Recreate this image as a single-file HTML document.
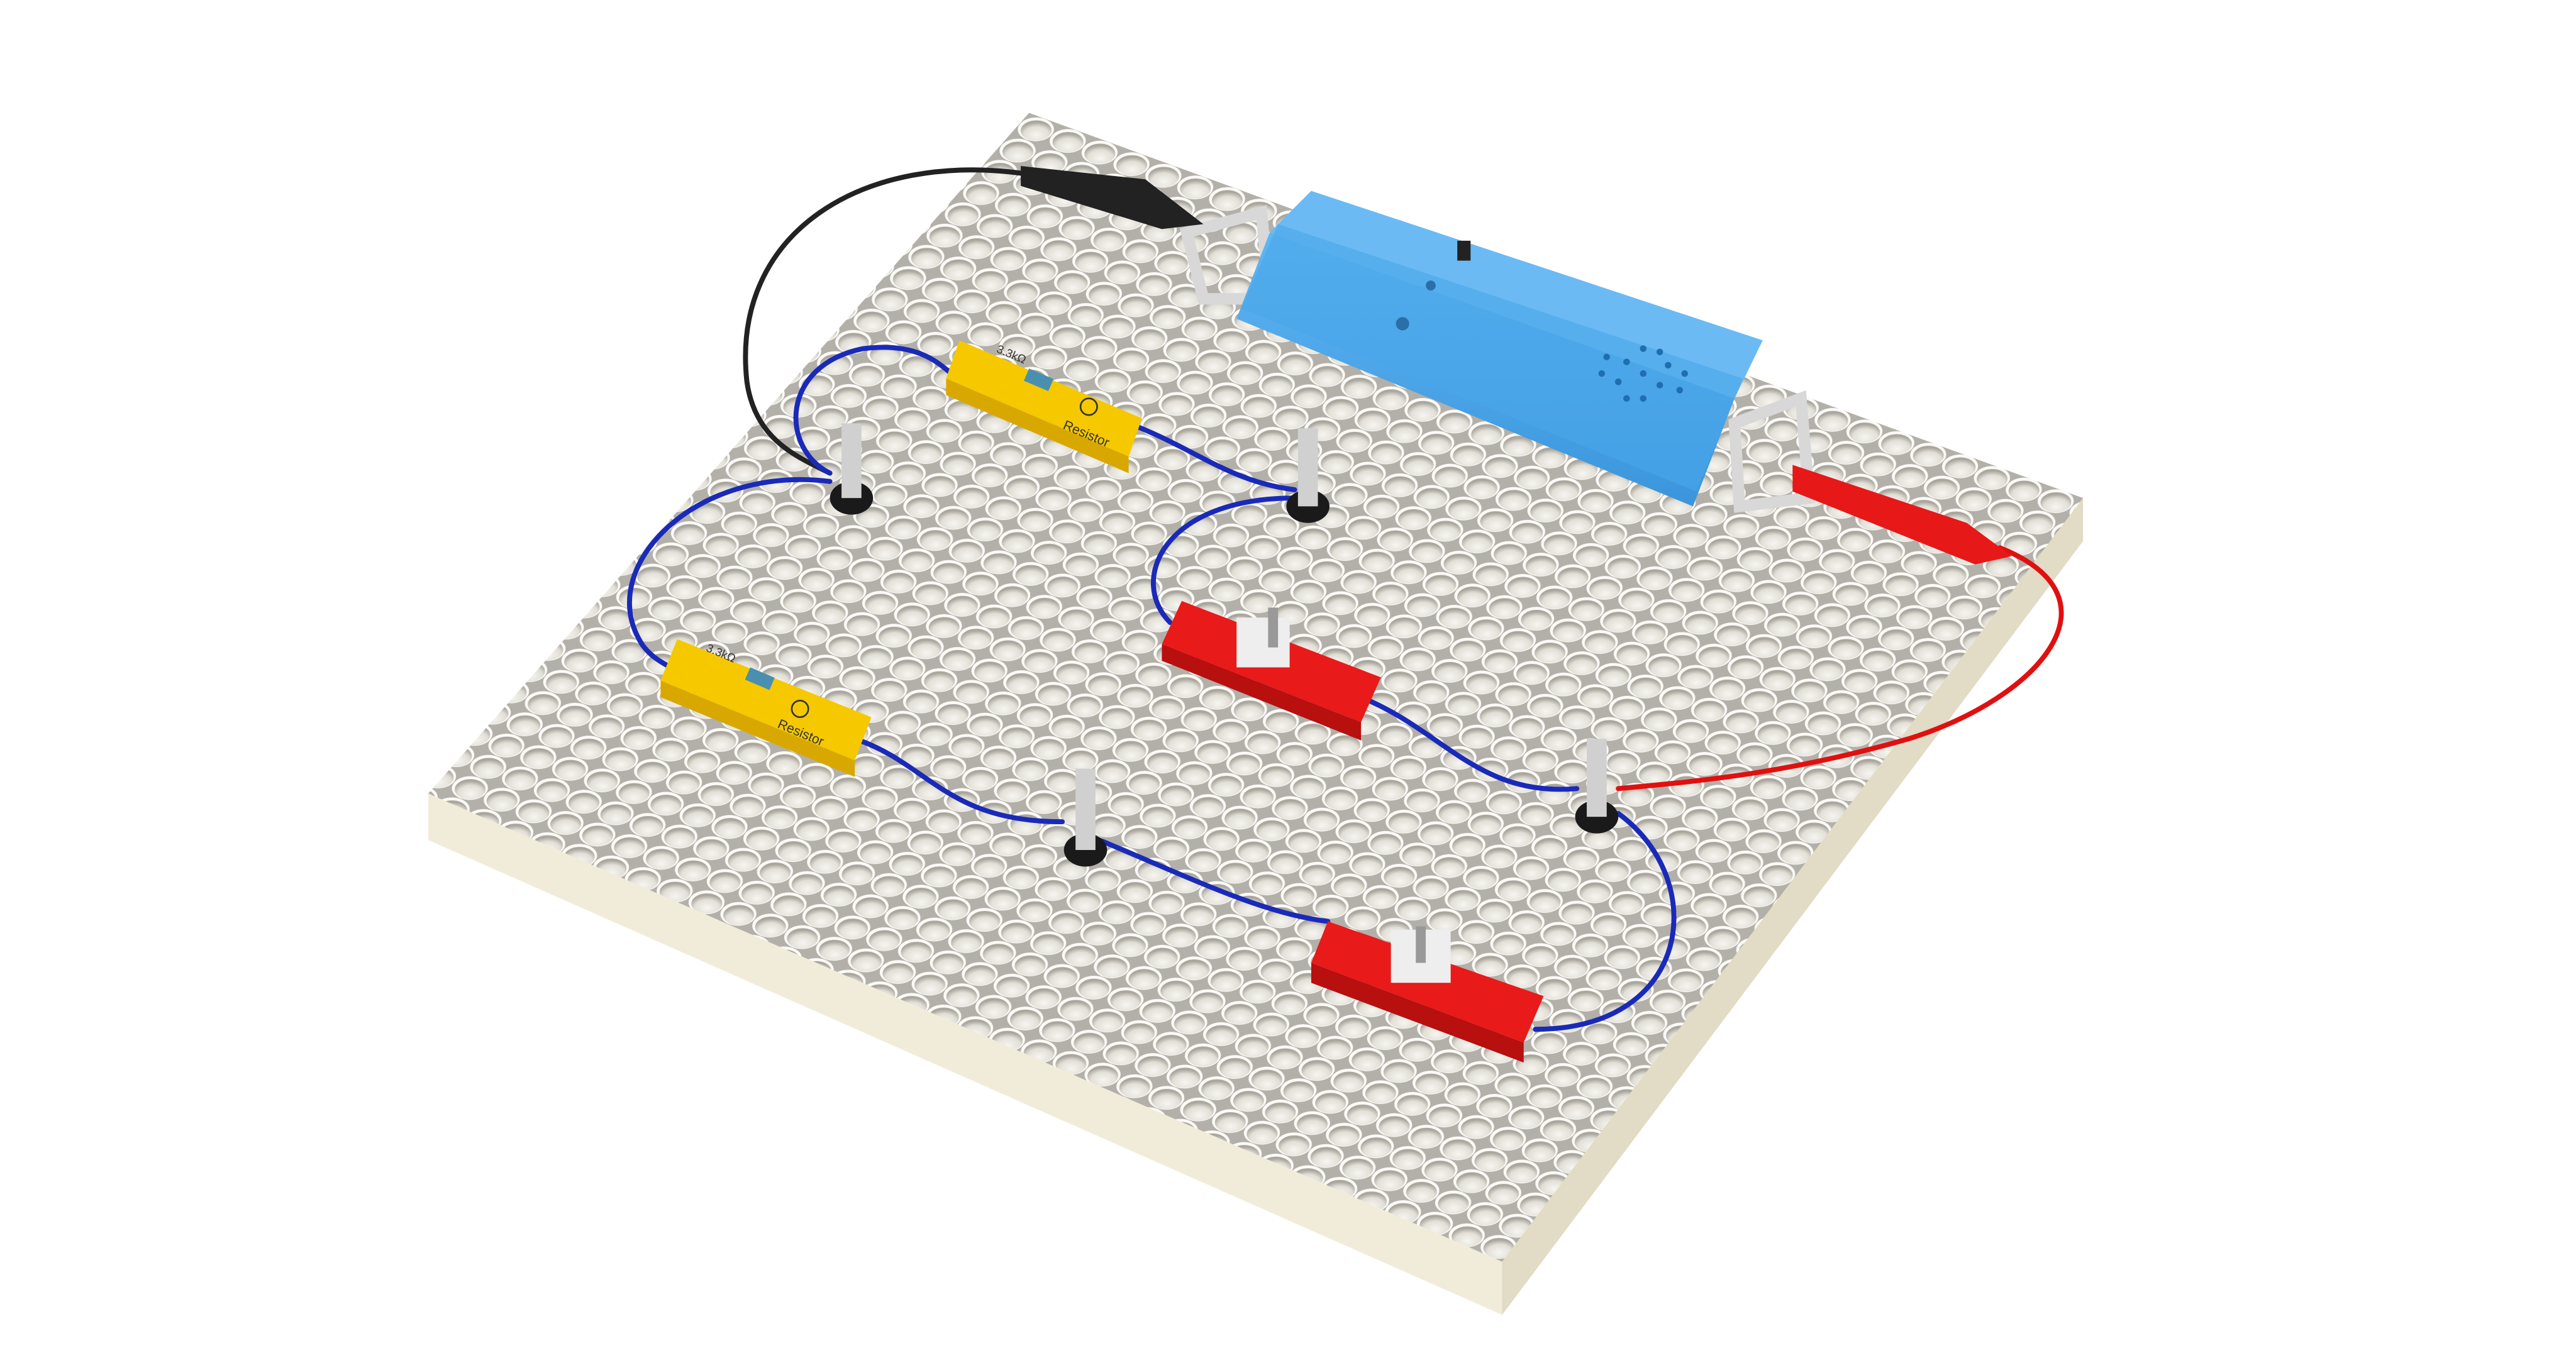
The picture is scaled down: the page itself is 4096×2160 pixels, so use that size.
<!DOCTYPE html>
<html><head><meta charset="utf-8"><style>
html,body{margin:0;padding:0;background:#fff;}
svg{display:block;width:4096px;height:2160px;}
text{font-family:"Liberation Sans",sans-serif;}
</style></head><body>
<svg viewBox="0 0 1552 818" preserveAspectRatio="none" xmlns="http://www.w3.org/2000/svg">
<defs>
<radialGradient id="hole" cx="0.62" cy="0.68" r="0.62">
<stop offset="0" stop-color="#f6f5f0"/><stop offset="0.65" stop-color="#e2dfd7"/><stop offset="1" stop-color="#a9a69e"/>
</radialGradient>
<pattern id="holes" patternUnits="userSpaceOnUse" width="1" height="1" patternTransform="matrix(19.2,7.0,-11.0,12.8,620,68)">
<rect width="1" height="1" fill="#b3b0a9"/>
<circle cx="0.5" cy="0.5" r="0.49" fill="#fbfaf7"/>
<circle cx="0.53" cy="0.54" r="0.42" fill="url(#hole)"/>
</pattern>
<linearGradient id="blueg" x1="0" y1="0" x2="0" y2="1"><stop offset="0" stop-color="#5fb6f3"/><stop offset="1" stop-color="#3a95dc"/></linearGradient>
</defs>
<g>
<polygon points="258,478 905,760 905,792 258,506" fill="#f1ecda"/>
<polygon points="905,760 1255,300 1255,326 905,792" fill="#e2dbc5"/>
<polygon points="620,68 1255,300 905,760 258,478" fill="url(#holes)"/>
</g>
<g fill="none" stroke-linecap="round">
<path d="M620,105 C520,90 440,140 450,230 C455,265 480,275 500,285" stroke="#222" stroke-width="3"/>
<path d="M1205,330 C1280,360 1230,420 1150,445 C1080,465 1030,470 975,475" stroke="#e01010" stroke-width="3"/>
<path d="M500,285 C470,270 470,220 520,210 C560,205 570,225 580,230" stroke="#1a2ab8" stroke-width="3"/>
<path d="M680,255 C720,270 740,290 780,295" stroke="#1a2ab8" stroke-width="3"/>
<path d="M500,290 C420,280 360,340 385,385 C390,395 400,400 410,405" stroke="#1a2ab8" stroke-width="3"/>
<path d="M780,300 C700,300 680,350 705,375" stroke="#1a2ab8" stroke-width="3"/>
<path d="M515,445 C560,460 570,495 640,495" stroke="#1a2ab8" stroke-width="3"/>
<path d="M820,420 C870,440 890,480 950,475" stroke="#1a2ab8" stroke-width="3"/>
<path d="M660,505 C720,530 760,550 800,555" stroke="#1a2ab8" stroke-width="3"/>
<path d="M975,490 C1030,530 1020,620 925,620" stroke="#1a2ab8" stroke-width="3"/>
</g>
<g>
<g><ellipse cx="513" cy="300" rx="13" ry="10" fill="#1a1a1a"/><rect x="507" y="255" width="12" height="45" fill="#d0d0d0"/></g>
<g><ellipse cx="788" cy="305" rx="13" ry="10" fill="#1a1a1a"/><rect x="782" y="258" width="12" height="47" fill="#d0d0d0"/></g>
<g><ellipse cx="654" cy="512" rx="13" ry="10" fill="#1a1a1a"/><rect x="648" y="463" width="12" height="49" fill="#d0d0d0"/></g>
<g><ellipse cx="962" cy="492" rx="13" ry="10" fill="#1a1a1a"/><rect x="956" y="445" width="12" height="47" fill="#d0d0d0"/></g>
</g>
<g>
<path d="M715,140 L760,128 L765,180 L725,180 Z" fill="none" stroke="#d8d8d8" stroke-width="7"/>
<path d="M1045,255 L1085,240 L1090,300 L1048,305 Z" fill="none" stroke="#d8d8d8" stroke-width="7"/>
<polygon points="790,115 1062,205 1045,240 765,140" fill="#6cbaf3"/>
<polygon points="765,140 1045,240 1020,305 745,192" fill="url(#blueg)"/>
<polygon points="770,135 1050,228 1022,296 748,186" fill="#4aa6ea" opacity="0.6"/>
<g fill="#1f6fb0">
<circle cx="990" cy="225" r="2"/><circle cx="980" cy="218" r="2"/><circle cx="1000" cy="232" r="2"/><circle cx="975" cy="230" r="2"/><circle cx="1005" cy="220" r="2"/><circle cx="990" cy="210" r="2"/><circle cx="990" cy="240" r="2"/><circle cx="968" cy="215" r="2"/><circle cx="1012" cy="235" r="2"/><circle cx="965" cy="225" r="2"/><circle cx="1015" cy="225" r="2"/><circle cx="980" cy="240" r="2"/><circle cx="1000" cy="212" r="2"/>
</g>
<rect x="878" y="145" width="8" height="12" fill="#222"/>
<circle cx="845" cy="195" r="4" fill="#2a6fa8"/>
<circle cx="862" cy="172" r="3" fill="#2a6fa8"/>
</g>
<g>
<path d="M615,100 L690,108 L725,135 L700,138 L615,112 Z" fill="#222"/>
<path d="M1080,280 L1185,315 L1212,335 L1190,340 L1080,296 Z" fill="#e61818"/>
</g>
<g>
<polygon points="578,205 688,252 680,275 570,228" fill="#f5c800"/>
<polygon points="570,228 680,275 680,285 570,238" fill="#d9a800"/>
<rect x="620" y="222" width="16" height="8" fill="#4a8fb0" transform="rotate(23 620 222)"/>
<text x="600" y="212" font-size="7" transform="rotate(23 600 212)" fill="#333">3.3kΩ</text>
<text x="640" y="258" font-size="8" transform="rotate(23 640 258)" fill="#333">Resistor</text>
<circle cx="656" cy="245" r="5" fill="none" stroke="#333"/>
</g>
<g>
<polygon points="408,385 525,432 515,458 398,410" fill="#f5c800"/>
<polygon points="398,410 515,458 515,468 398,420" fill="#d9a800"/>
<rect x="452" y="402" width="16" height="8" fill="#4a8fb0" transform="rotate(23 452 402)"/>
<text x="425" y="392" font-size="7" transform="rotate(23 425 392)" fill="#333">3.3kΩ</text>
<text x="468" y="438" font-size="8" transform="rotate(23 468 438)" fill="#333">Resistor</text>
<circle cx="482" cy="427" r="5" fill="none" stroke="#333"/>
</g>
<g>
<polygon points="712,362 832,408 820,435 700,388" fill="#e81a1a"/>
<polygon points="700,388 820,435 820,446 700,398" fill="#b80f0f"/>
<rect x="745" y="372" width="32" height="30" fill="#eee"/>
<rect x="764" y="366" width="6" height="24" fill="#999"/>
</g>
<g>
<polygon points="800,555 930,600 918,628 790,580" fill="#e81a1a"/>
<polygon points="790,580 918,628 918,640 790,592" fill="#b80f0f"/>
<rect x="838" y="560" width="36" height="32" fill="#eee"/>
<rect x="853" y="558" width="6" height="22" fill="#999"/>
</g>
</svg>
</body></html>
